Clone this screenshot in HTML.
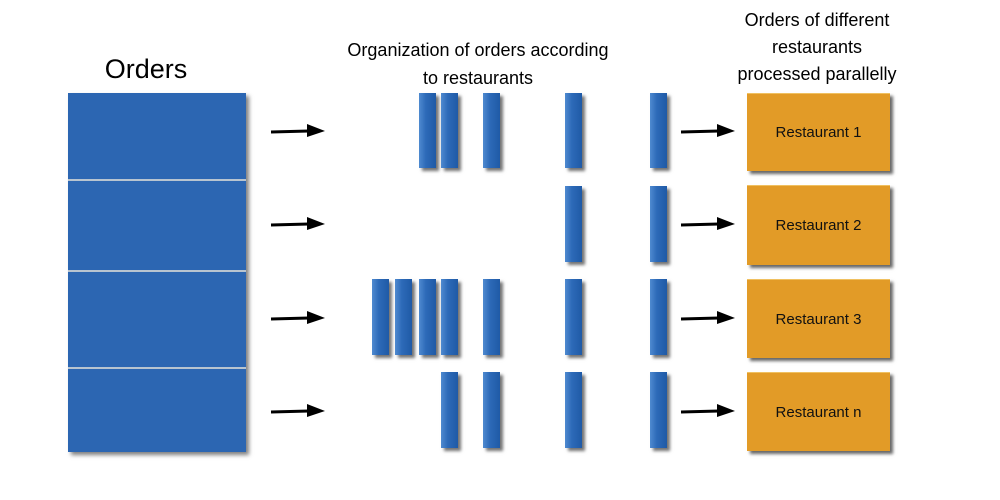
<!DOCTYPE html>
<html><head><style>
body{margin:0;width:1000px;height:500px;background:#fff;position:relative;overflow:hidden;font-family:"Liberation Sans",Arial,sans-serif}
.t{position:absolute;text-align:center;color:#000;white-space:nowrap}
.b{position:absolute;width:17px;background:linear-gradient(90deg,#4f8ad0,#2d6ab8 40%,#1f5aa6);box-shadow:3px 3px 3px rgba(0,0,0,.55)}
.o{position:absolute;left:747px;width:143px;background:#e29b27;box-shadow:3px 3px 3px rgba(0,0,0,.6);border-top:1px solid #f0c060;font-size:15px;display:flex;align-items:center;justify-content:center;color:#111}
</style></head><body>
<div class="t" style="left:96px;top:54px;font-size:27px;width:100px">Orders</div>
<div class="t" style="left:298px;top:36px;font-size:18px;width:360px;line-height:28px">Organization of orders according<br>to restaurants</div>
<div class="t" style="left:707px;top:7px;font-size:18px;width:220px;line-height:27px">Orders of different<br>restaurants<br>processed parallelly</div>
<div style="position:absolute;left:68px;top:93px;width:178px;height:359px;background:#2c66b2;box-shadow:3px 3px 4px rgba(0,0,0,.5)"></div>
<div style="position:absolute;left:68px;top:179px;width:178px;height:2px;background:#b8c4d0"></div>
<div style="position:absolute;left:68px;top:270px;width:178px;height:2px;background:#b8c4d0"></div>
<div style="position:absolute;left:68px;top:367px;width:178px;height:2px;background:#b8c4d0"></div>
<div class="b" style="left:419px;top:93px;height:75px"></div>
<div class="b" style="left:441px;top:93px;height:75px"></div>
<div class="b" style="left:483px;top:93px;height:75px"></div>
<div class="b" style="left:565px;top:93px;height:75px"></div>
<div class="b" style="left:650px;top:93px;height:75px"></div>
<div class="b" style="left:565px;top:186px;height:76px"></div>
<div class="b" style="left:650px;top:186px;height:76px"></div>
<div class="b" style="left:372px;top:279px;height:76px"></div>
<div class="b" style="left:395px;top:279px;height:76px"></div>
<div class="b" style="left:419px;top:279px;height:76px"></div>
<div class="b" style="left:441px;top:279px;height:76px"></div>
<div class="b" style="left:483px;top:279px;height:76px"></div>
<div class="b" style="left:565px;top:279px;height:76px"></div>
<div class="b" style="left:650px;top:279px;height:76px"></div>
<div class="b" style="left:441px;top:372px;height:76px"></div>
<div class="b" style="left:483px;top:372px;height:76px"></div>
<div class="b" style="left:565px;top:372px;height:76px"></div>
<div class="b" style="left:650px;top:372px;height:76px"></div>
<div class="o" style="top:93px;height:77px">Restaurant 1</div>
<div class="o" style="top:185px;height:79px">Restaurant 2</div>
<div class="o" style="top:279px;height:78px">Restaurant 3</div>
<div class="o" style="top:372px;height:78px">Restaurant n</div>
<svg width="1000" height="500" style="position:absolute;left:0;top:0">
<defs><g id="ar"><line x1="0" y1="3" x2="38" y2="2" stroke="#000" stroke-width="3"/><polygon points="36,-5 54,2 36,8" fill="#000"/></g></defs>
<use href="#ar" x="271" y="129"/><use href="#ar" x="271" y="222"/><use href="#ar" x="271" y="316"/><use href="#ar" x="271" y="409"/>
<use href="#ar" x="681" y="129"/><use href="#ar" x="681" y="222"/><use href="#ar" x="681" y="316"/><use href="#ar" x="681" y="409"/>
</svg>
</body></html>
